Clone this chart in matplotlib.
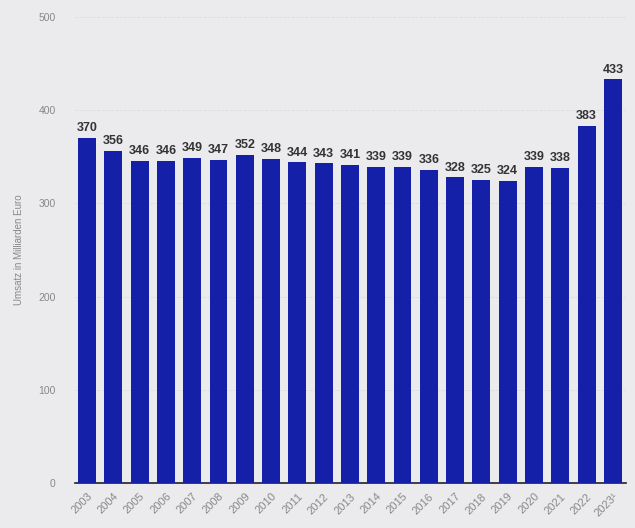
import matplotlib
matplotlib.use("Agg")
import matplotlib.pyplot as plt

plt.rcParams["font.family"] = ["Liberation Sans", "DejaVu Sans"]

years = ["2003", "2004", "2005", "2006", "2007", "2008", "2009", "2010", "2011",
         "2012", "2013", "2014", "2015", "2016", "2017", "2018", "2019", "2020",
         "2021", "2022", "2023¹"]
umsatz = [370, 356, 346, 346, 349, 347, 352, 348, 344, 343, 341, 339, 339, 336,
          328, 325, 324, 339, 338, 383, 433]
yticks = [0, 100, 200, 300, 400, 500]

BG = "#ebebee"
BAR = "#1420a8"

fig = plt.figure(figsize=(6.35, 5.28), dpi=100, facecolor=BG)
ax = fig.add_axes([75 / 635, 1 - 483 / 528, 551 / 635, 466 / 528], facecolor=BG)

x = list(range(len(years)))
bars = ax.bar(x, umsatz, width=0.68, color=BAR, zorder=3)
for b, v in zip(bars, umsatz):
    ax.text(b.get_x() + b.get_width() / 2, v + 4, str(v), ha="center", va="bottom",
            fontsize=9, fontweight="bold", color="#333333", zorder=4)

ax.set_xlim(-0.46, 20.5)
ax.set_ylim(0, 500)
ax.set_yticks(yticks)
ax.set_yticklabels([str(t) for t in yticks], fontsize=7.5, color="#888888")
ax.set_xticks(x)
ax.set_xticklabels(years, rotation=45, ha="right", rotation_mode="anchor",
                   fontsize=8, color="#888888")
ax.tick_params(axis="both", length=0, pad=6)
ax.tick_params(axis="y", pad=14)
ax.yaxis.grid(True, color="#dcdce0", lw=0.6, ls="--", zorder=0)
for s in ["top", "right", "left"]:
    ax.spines[s].set_visible(False)
ax.spines["bottom"].set_color("#222222")
ax.spines["bottom"].set_linewidth(1.2)
ax.set_ylabel("Umsatz in Milliarden Euro", fontsize=7, color="#888888", labelpad=10)

fig.savefig("out.png", dpi=100, facecolor=BG)
